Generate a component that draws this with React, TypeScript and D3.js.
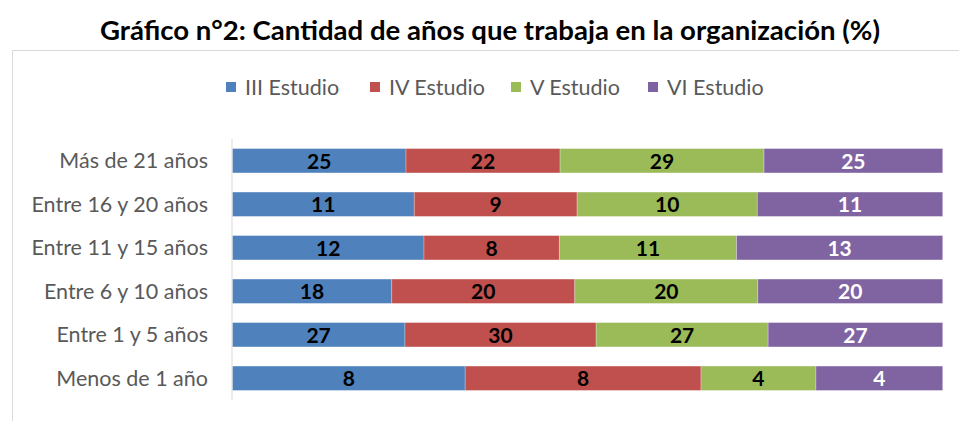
import React from "react";
import * as d3 from "d3";

const categories = [
  "Más de 21 años",
  "Entre 16 y 20 años",
  "Entre 11 y 15 años",
  "Entre 6 y 10 años",
  "Entre 1 y 5 años",
  "Menos de 1 año",
];
const seriesNames = ["III Estudio", "IV Estudio", "V Estudio", "VI Estudio"];
const iiiEstudio = [24.7, 10.5, 11.9, 17.6, 27.0, 7.9];
const ivEstudio = [21.9, 9.4, 8.4, 20.2, 29.9, 8.0];
const vEstudio = [29.0, 10.4, 11.0, 20.2, 26.9, 3.9];
const viEstudio = [25.4, 10.7, 12.8, 20.4, 27.3, 4.3];
const seriesValues = [iiiEstudio, ivEstudio, vEstudio, viEstudio];

const colors = ["#4F81BD", "#C0504D", "#9BBB59", "#8064A2"];
const labelColors = ["#000000", "#000000", "#000000", "#FFFFFF"];

const W = 959;
const H = 421;
const FONT = "Lato, 'Open Sans', sans-serif";

export default function App() {
  const rows = categories.map((c, i) => {
    const r: any = { cat: c };
    seriesNames.forEach((s, j) => (r[s] = seriesValues[j][i]));
    return r;
  });
  const stacked = d3
    .stack()
    .keys(seriesNames)
    .offset(d3.stackOffsetExpand)(rows);

  const x = d3.scaleLinear().domain([0, 1]).range([232.3, 942.7]);
  const y = d3
    .scaleBand()
    .domain(categories)
    .range([139, 400])
    .paddingInner(0.44)
    .paddingOuter(0.22);
  const fmt = d3.format(".0f");

  const legendX = [226, 370, 511, 648];

  return (
    <svg
      width={W}
      height={H}
      style={{ position: "absolute", left: 0, top: 0, background: "#fff" }}
    >
      <rect x={0} y={0} width={W} height={H} fill="#fff" />
      <text
        x={490}
        y={40}
        textAnchor="middle"
        fontFamily={FONT}
        fontWeight="bold"
        fontSize={26}
        fill="#000"
        textLength={780}
        lengthAdjust="spacingAndGlyphs"
      >
        Gráfico n°2: Cantidad de años que trabaja en la organización (%)
      </text>
      {/* chart frame */}
      <path d={`M12.5,${H + 2}V50.5H${W + 2}`} fill="none" stroke="#D9D9D9" strokeWidth={1} />

      {/* legend */}
      {seriesNames.map((s, j) => (
        <g key={s} transform={`translate(${legendX[j]},87)`}>
          <rect x={0} y={-5} width={10} height={10} fill={colors[j]} />
          <text
            x={19}
            y={0}
            dy="0.36em"
            fontFamily={FONT}
            fontSize={21.5}
            fill="#595959"
          >
            {s}
          </text>
        </g>
      ))}

      {/* category labels */}
      {categories.map((c) => (
        <text
          key={c}
          x={208}
          y={(y(c) as number) + y.bandwidth() / 2}
          dy="0.36em"
          textAnchor="end"
          fontFamily={FONT}
          fontSize={21.5}
          fill="#595959"
        >
          {c}
        </text>
      ))}

      {/* bars */}
      {stacked.map((layer, j) => (
        <g key={layer.key}>
          {layer.map((d, i) => {
            const cat = categories[i];
            const x0 = x(d[0]);
            const x1 = x(d[1]);
            const yy = y(cat) as number;
            return (
              <g key={cat}>
                <rect
                  x={x0}
                  y={yy}
                  width={x1 - x0}
                  height={y.bandwidth()}
                  fill={colors[j]}
                  stroke="rgba(255,255,255,0.35)"
                  strokeWidth={0.75}
                />
                <text
                  x={(x0 + x1) / 2}
                  y={yy + y.bandwidth() / 2}
                  dy="0.37em"
                  textAnchor="middle"
                  fontFamily={FONT}
                  fontWeight="bold"
                  fontSize={21}
                  fill={labelColors[j]}
                >
                  {fmt(seriesValues[j][i])}
                </text>
              </g>
            );
          })}
        </g>
      ))}

      {/* axis line */}
      <line x1={232} x2={232} y1={139} y2={400} stroke="#D9D9D9" strokeWidth={1} />
    </svg>
  );
}
